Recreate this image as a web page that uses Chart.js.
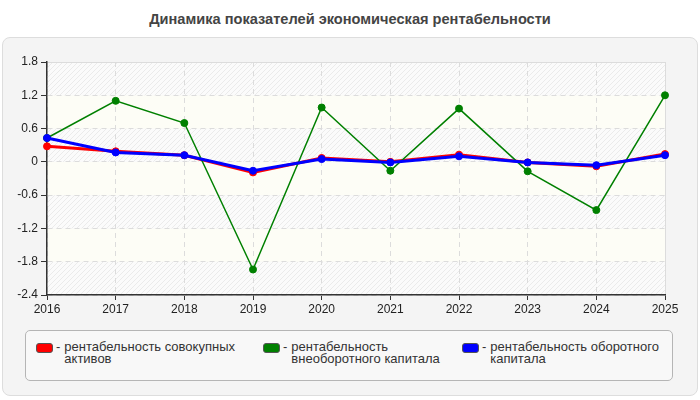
<!DOCTYPE html>
<html>
<head>
<meta charset="utf-8">
<script src="https://cdn.jsdelivr.net/npm/chart.js@4"></script>
<style>
  body { margin: 0; background: #fff; font-family: "Liberation Sans", Arial, sans-serif; }
  #wrap { position: relative; width: 700px; height: 400px; overflow: hidden; }
  #title { position: absolute; left: 0; top: 11px; width: 700px; text-align: center;
           font-weight: bold; font-size: 14.6px; color: #444; }
  #panel { position: absolute; left: 2px; top: 37px; width: 694px; height: 357px;
           background: #f4f4f4; border: 1px solid #ddd; border-radius: 8px; }
  #myChart { position: absolute; left: 0; top: 0; }
  #legend { position: absolute; left: 25px; top: 330px; width: 648px; height: 51px;
            border: 1px solid #b5b5b5; border-radius: 5px; background: #f8f8f8;
            display: grid; grid-template-columns: 227px 199px auto; padding: 10px 0 0 10px;
            box-sizing: border-box; font-size: 13px; color: #333; line-height: 12px; }
  .item { display: flex; align-items: flex-start; }
  .sw { width: 15px; height: 8px; border-radius: 3px; border: 1px solid #555; margin: 2px 3px 0 0; flex: none; }
  .dash { margin-right: 4px; }
  .txt { max-width: 180px; }
</style>
</head>
<body>
<div id="wrap">
  <div id="title">Динамика показателей экономическая рентабельности</div>
  <div id="panel"></div>
  <canvas id="myChart" width="700" height="400"></canvas>
  <div id="legend"></div>
</div>
<script>
var years = ['2016', '2017', '2018', '2019', '2020', '2021', '2022', '2023', '2024', '2025'];

var labelTotal = 'рентабельность совокупных активов';
var labelFixed = 'рентабельность внеоборотного капитала';
var labelWorking = 'рентабельность оборотного капитала';

var roaTotal   = [0.28, 0.19, 0.12, -0.19, 0.07, 0.00, 0.13, -0.01, -0.08, 0.14];
var roaFixed   = [0.43, 1.10, 0.70, -1.94, 0.98, -0.16, 0.96, -0.17, -0.87, 1.20];
var roaWorking = [0.43, 0.17, 0.12, -0.16, 0.05, -0.01, 0.10, -0.01, -0.06, 0.12];

var yTicksMin = -2.4, yTicksMax = 1.8, yStep = 0.6;

// hatch pattern for the striped bands
function makeHatch() {
  var c = document.createElement('canvas');
  c.width = 5; c.height = 5;
  var g = c.getContext('2d');
  g.fillStyle = '#fbfbfb';
  g.fillRect(0, 0, 5, 5);
  g.strokeStyle = '#ebebeb';
  g.lineWidth = 1;
  g.beginPath();
  g.moveTo(-1, 6); g.lineTo(6, -1);
  g.moveTo(-1, 1); g.lineTo(1, -1);
  g.moveTo(4, 6); g.lineTo(6, 4);
  g.stroke();
  return g.createPattern(c, 'repeat');
}

const bands = {
  id: 'bands',
  beforeDraw(chart) {
    const ctx = chart.ctx, a = chart.chartArea, y = chart.scales.y;
    const hatch = makeHatch();
    const ticks = y.ticks;
    ctx.save();
    for (let i = 0; i < ticks.length - 1; i++) {
      const top = y.getPixelForValue(ticks[i + 1].value);
      const bot = y.getPixelForValue(ticks[i].value);
      ctx.fillStyle = (i % 2 === 0) ? hatch : '#fdfdf6';
      ctx.fillRect(a.left, top, a.right - a.left, bot - top);
    }
    ctx.strokeStyle = '#dcdcdc';
    ctx.lineWidth = 1;
    ctx.beginPath();
    ctx.moveTo(a.left, a.top + 0.5);
    ctx.lineTo(a.right + 0.5, a.top + 0.5);
    ctx.lineTo(a.right + 0.5, a.bottom);
    ctx.stroke();
    ctx.restore();
  }
};

const ctx = document.getElementById('myChart');

new Chart(ctx, {
  type: 'line',
  data: {
    labels: years,
    datasets: [{
      label: labelTotal,
      data: roaTotal,
      borderColor: '#ff0000',
      backgroundColor: '#ff0000',
      borderWidth: 3,
      order: 3
    }, {
      label: labelFixed,
      data: roaFixed,
      borderColor: '#008000',
      backgroundColor: '#008000',
      borderWidth: 1.5,
      order: 2
    }, {
      label: labelWorking,
      data: roaWorking,
      borderColor: '#0000ff',
      backgroundColor: '#0000ff',
      borderWidth: 3,
      order: 1
    }]
  },
  options: {
    responsive: false,
    animation: false,
    tension: 0,
    clip: false,
    elements: { point: { radius: 3.5, borderWidth: 1 } },
    datasets: { line: { pointRadius: 3.5, pointBorderWidth: 1 } },
    layout: { padding: { left: 0, top: 62, right: 35, bottom: 83 } },
    plugins: { legend: { display: false }, tooltip: { enabled: false } },
    scales: {
      x: {
        offset: false,
        afterFit: function (s) { s.height = 22; },
        grid: { color: '#dcdcdc', tickColor: '#333', tickLength: 5, offset: false },
        border: { color: '#333', width: 1.5, dash: [5, 4] },
        ticks: { color: '#222', font: { family: 'Liberation Sans', size: 12 }, padding: 2, maxRotation: 0 }
      },
      y: {
        min: yTicksMin,
        max: yTicksMax,
        afterFit: function (s) { s.width = 47; },
        grid: { color: '#dcdcdc', tickColor: '#333', tickLength: 6 },
        border: { color: '#333', width: 1.5, dash: [5, 4] },
        ticks: {
          stepSize: yStep,
          color: '#222',
          font: { family: 'Liberation Sans', size: 12 },
          padding: 3,
          callback: function (v) { return String(Math.round(v * 10) / 10); }
        }
      }
    }
  },
  plugins: [bands]
});

// html legend built from the datasets
var legendEl = document.getElementById('legend');
[[labelTotal, '#ff0000'], [labelFixed, '#008000'], [labelWorking, '#0000ff']].forEach(function (it) {
  var d = document.createElement('div');
  d.className = 'item';
  d.innerHTML = '<span class="sw" style="background:' + it[1] + '"></span><span class="dash">-</span><span class="txt">' + it[0] + '</span>';
  legendEl.appendChild(d);
});
</script>
</body>
</html>
